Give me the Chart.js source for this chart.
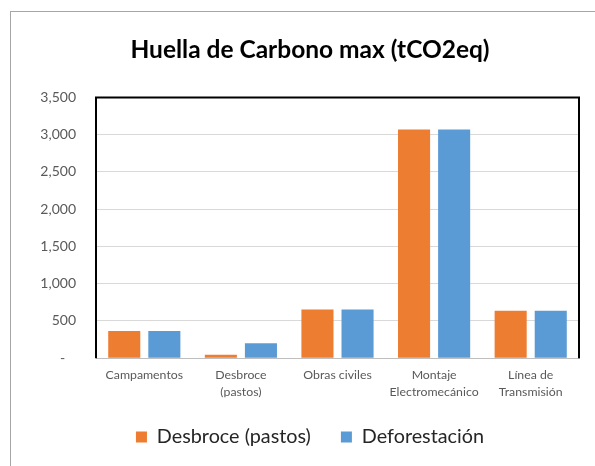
<!DOCTYPE html>
<html>
<head>
<meta charset="utf-8">
<script src="https://cdn.jsdelivr.net/npm/chart.js@4"></script>
<style>
  html, body { margin: 0; padding: 0; background: #fff; overflow: hidden; }
  #frame { position: absolute; left: 10px; top: 11px; width: 700px; height: 600px; border: 1px solid #a6a6a6; }
  #wrap { position: absolute; left: 0; top: 0; width: 595px; height: 466px; }
</style>
</head>
<body>
<div id="frame"></div>
<div id="wrap"><canvas id="chart" width="595" height="466"></canvas></div>
<script>
// chart data
const categories = ['Campamentos', ['Desbroce', '(pastos)'], 'Obras civiles', ['Montaje', 'Electromecánico'], ['Línea de', 'Transmisión']];
const desbroceValues = [365, 45, 655, 3070, 637];
const deforestacionValues = [365, 200, 655, 3070, 637];
const yTicks = [0, 500, 1000, 1500, 2000, 2500, 3000, 3500];

const FONT = 'Lato, "Open Sans", sans-serif';

// black frame round the plot area (left, top, right)
const plotFrame = {
  id: 'plotFrame',
  afterDraw(chart) {
    const { ctx, chartArea: a } = chart;
    ctx.save();
    ctx.strokeStyle = '#000';
    ctx.lineWidth = 2;
    ctx.beginPath();
    ctx.moveTo(a.left, a.bottom);
    ctx.lineTo(a.left, a.top);
    ctx.lineTo(a.right, a.top);
    ctx.lineTo(a.right, a.bottom);
    ctx.stroke();
    ctx.restore();
  }
};

const ctx = document.getElementById('chart').getContext('2d');
new Chart(ctx, {
  type: 'bar',
  data: {
    labels: categories,
    datasets: [
      {
        label: 'Desbroce (pastos)',
        data: desbroceValues,
        backgroundColor: '#ED7D31',
        categoryPercentage: 0.83,
        barPercentage: 0.8
      },
      {
        label: 'Deforestación',
        data: deforestacionValues,
        backgroundColor: '#5B9BD5',
        categoryPercentage: 0.83,
        barPercentage: 0.8
      }
    ]
  },
  options: {
    responsive: false,
    animation: false,
    layout: { padding: { left: 41, right: 16, top: 35, bottom: 9 } },
    plugins: {
      title: {
        display: true,
        text: 'Huella de Carbono max (tCO2eq)',
        color: '#000',
        font: { family: FONT, size: 24.5, weight: 'bold' },
        padding: { top: 0, bottom: 33 }
      },
      legend: {
        position: 'bottom',
        labels: {
          color: '#262626',
          font: { family: FONT, size: 19.8 },
          boxWidth: 11,
          boxHeight: 11,
          padding: 30
        }
      },
      tooltip: { enabled: false }
    },
    scales: {
      x: {
        grid: { display: false, drawTicks: false },
        border: { display: true, color: '#bfbfbf', width: 1 },
        ticks: {
          color: '#595959',
          font: { family: FONT, size: 12.3, lineHeight: 1.4 },
          padding: 8,
          maxRotation: 0,
          autoSkip: false
        },
        afterFit(scale) { scale.height = 39; }
      },
      y: {
        min: 0,
        max: 3500,
        afterBuildTicks(scale) { scale.ticks = yTicks.map(v => ({ value: v })); },
        grid: { color: '#d9d9d9', lineWidth: 1, drawTicks: false },
        border: { display: false },
        ticks: {
          color: '#595959',
          font: { family: FONT, size: 14 },
          padding: 20,
          callback: v => v === 0 ? '-   ' : v.toLocaleString('en-US')
        },
        afterFit(scale) { scale.width = 55; }
      }
    }
  },
  plugins: [plotFrame]
});
</script>
</body>
</html>
